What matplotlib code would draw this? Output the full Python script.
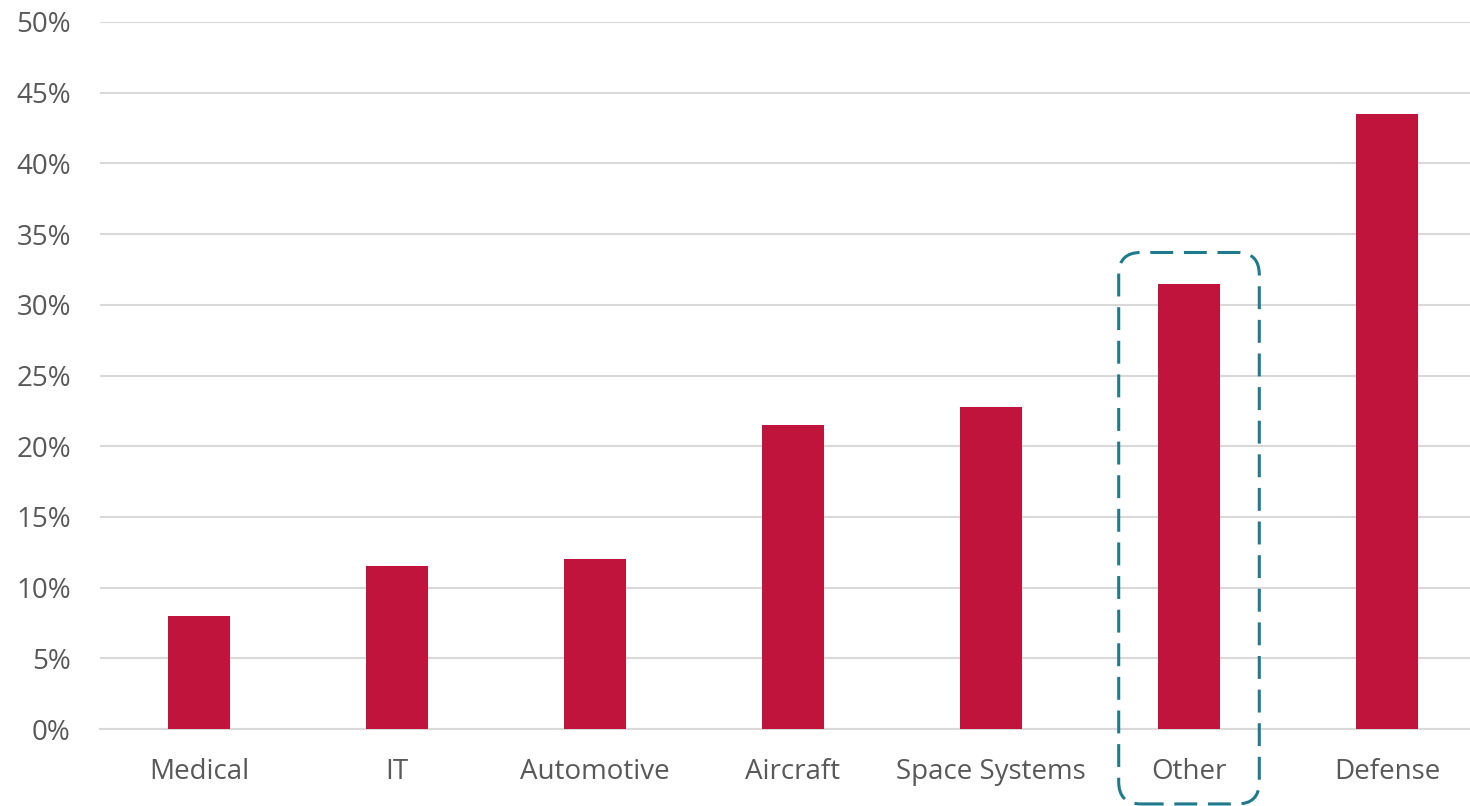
#!/usr/bin/env python3

import matplotlib
matplotlib.use('Agg')
import matplotlib.pyplot as plt
from matplotlib.patches import FancyBboxPatch
from matplotlib.ticker import PercentFormatter

# Data
categories = ['Medical', 'IT', 'Automotive', 'Aircraft', 'Space Systems',
              'Other', 'Defense']
shares = [8.0, 11.5, 12.0, 21.5, 22.8, 31.5, 43.5]
highlight = 'Other'

BAR_COLOR = '#C0143C'
BOX_COLOR = '#1F7A8C'
TEXT_COLOR = '#595959'
GRID_COLOR = '#D9D9D9'


def main():
    plt.rcParams['font.family'] = ['Open Sans', 'DejaVu Sans']
    fig = plt.figure(figsize=(14.7, 8.06), dpi=100)
    ax = fig.add_axes([100 / 1470, 1 - 729 / 806, 1 - 100 / 1470,
                       (729 - 22) / 806])

    x = list(range(len(categories)))
    ax.bar(x, shares, width=0.315, color=BAR_COLOR, zorder=3)

    ax.set_ylim(0, 50)
    ax.set_xlim(-0.5, len(categories) - 0.5 - 16 / 198)
    ax.set_yticks(range(0, 51, 5))
    ax.yaxis.set_major_formatter(PercentFormatter(decimals=0))
    ax.set_xticks(x)
    ax.set_xticklabels(categories)
    ax.tick_params(axis='both', length=0, labelsize=20,
                   labelcolor=TEXT_COLOR)
    ax.tick_params(axis='x', pad=21)
    ax.tick_params(axis='y', pad=21)

    ax.grid(axis='y', color=GRID_COLOR, linewidth=1.5, zorder=0)
    for side in ['top', 'right', 'left']:
        ax.spines[side].set_visible(False)
    ax.spines['bottom'].set_color(GRID_COLOR)
    ax.spines['bottom'].set_linewidth(1.5)

    # dashed rounded box around the highlighted bar
    i = categories.index(highlight)
    fig.canvas.draw()
    x0, y0 = ax.transData.transform((i - 0.355, -5.3))
    x1, y1 = ax.transData.transform((i + 0.355, shares[i] + 2.2))
    box = FancyBboxPatch((x0, y0), x1 - x0, y1 - y0,
                         boxstyle='round,pad=0,rounding_size=22',
                         transform=None, fill=False, edgecolor=BOX_COLOR,
                         linewidth=2.2, linestyle=(0, (7.5, 3.5)),
                         clip_on=False, zorder=4)
    fig.patches.append(box)

    fig.savefig('out.png', dpi=100)


if __name__ == '__main__':
    main()
